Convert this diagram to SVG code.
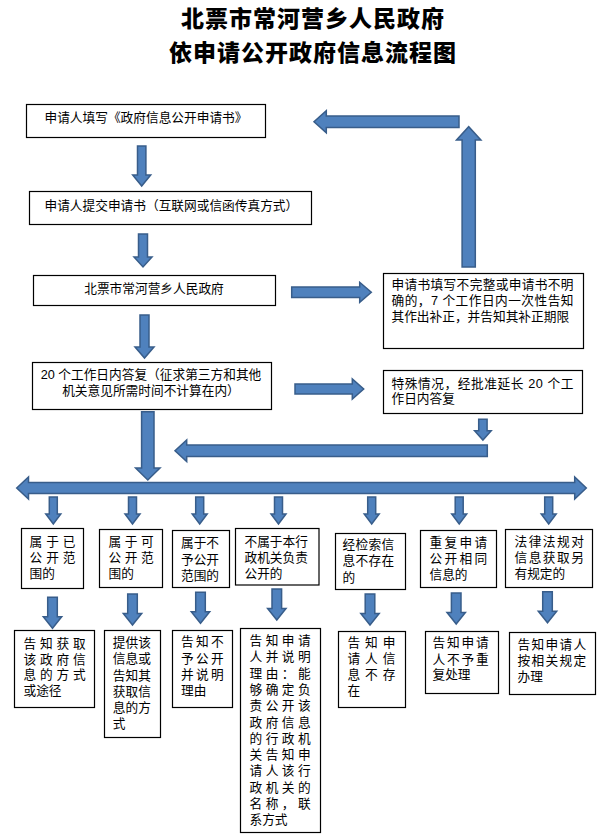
<svg xmlns="http://www.w3.org/2000/svg" xmlns:xlink="http://www.w3.org/1999/xlink" width="606" height="835" viewBox="0 0 606 835">
<style>
.title{font-family:"Noto Sans CJK SC",sans-serif;font-size:23px;font-weight:900;fill:#000;text-anchor:middle;letter-spacing:1px}
.t{font-family:"Liberation Sans","Noto Sans CJK SC",sans-serif;font-size:12.7px;fill:#000}
.c{text-anchor:middle}
.box{fill:#fff;stroke:#000;stroke-width:1.2}
.arr{fill:#4F81BD;stroke:#385D8A;stroke-width:1.5;stroke-linejoin:miter}
</style>
<defs>
<path id="sa" d="M-4,497 H4 V514 H7.5 L0,524 L-7.5,514 H-4 Z"/>
<path id="ma" d="M-4.8,0 H4.8 V19.5 H9.2 L0,31 L-9.2,19.5 H-4.8 Z"/>
</defs>
<rect width="606" height="835" fill="#fff"/>
<g id="title">
<text class="title" x="313" y="27">北票市常河营乡人民政府</text>
<text class="title" x="313" y="61">依申请公开政府信息流程图</text>
</g>
<g id="connectors">
<path class="arr" d="M137.5,146 H145.9 V175 H150.7 L141.7,186 L132.7,175 H137.5 Z"/>
<path class="arr" d="M138.5,234 H147.5 V257 H152 L143,267 L134,257 H138.5 Z"/>
<path class="arr" d="M140,315 H149 V347 H154 L144.5,358 L135,347 H140 Z"/>
<path class="arr" d="M141.6,411.7 H154 V468 H160 L147.8,480 L135.6,468 H141.6 Z"/>
<path class="arr" d="M459,115.9 V127.5 H326.3 V132.7 L314,121.7 L326.3,110.7 V115.9 Z"/>
<path class="arr" d="M462.1,267 V140 H456.5 L468.7,126.7 L480.9,140 H475.3 V267 Z"/>
<path class="arr" d="M291.7,287 H359.7 V282.3 L371.3,292.3 L359.7,302.3 V297.6 H291.7 Z"/>
<path class="arr" d="M295,384 H352.3 V379 L363.7,389 L352.3,399 V394 H295 Z"/>
<path class="arr" d="M478.7,419.3 H487.1 V430.7 H491.2 L482.9,440 L474.6,430.7 H478.7 Z"/>
<path class="arr" d="M487.3,444.9 V456.5 H186.7 V461.5 L175,450.7 L186.7,439.9 V444.9 Z"/>
<path class="arr" d="M16.7,488 L28.5,477 V482.5 H574.7 V477 L586.3,488 L574.7,499 V493.5 H28.5 V499 Z"/>
<use xlink:href="#sa" class="arr" transform="translate(53.3,0)"/>
<use xlink:href="#sa" class="arr" transform="translate(132.5,0)"/>
<use xlink:href="#sa" class="arr" transform="translate(199.7,0)"/>
<use xlink:href="#sa" class="arr" transform="translate(278.5,0)"/>
<use xlink:href="#sa" class="arr" transform="translate(371.7,0)"/>
<use xlink:href="#sa" class="arr" transform="translate(459.2,0)"/>
<use xlink:href="#sa" class="arr" transform="translate(548.7,0)"/>
<use xlink:href="#ma" class="arr" transform="translate(52.5,597.3)"/>
<use xlink:href="#ma" class="arr" transform="translate(132.5,594)"/>
<use xlink:href="#ma" class="arr" transform="translate(200.5,592.3)"/>
<use xlink:href="#ma" class="arr" transform="translate(276.8,589)"/>
<use xlink:href="#ma" class="arr" transform="translate(370,594)"/>
<use xlink:href="#ma" class="arr" transform="translate(456.2,593)"/>
<use xlink:href="#ma" class="arr" transform="translate(547.5,591.7)"/>
</g>
<g id="n1"><rect class="box" x="26.5" y="104.5" width="239" height="33"/>
<text class="t" x="44.5" y="122">申请人填写《政府信息公开申请书》</text></g>
<g id="n2"><rect class="box" x="29.5" y="191.5" width="282" height="33"/>
<text class="t" x="44.5" y="210">申请人提交申请书（互联网或信函传真方式）</text></g>
<g id="n3"><rect class="box" x="33.5" y="275.5" width="242" height="30"/>
<text class="t c" x="154" y="293">北票市常河营乡人民政府</text></g>
<g id="n4"><rect class="box" x="32.5" y="362.5" width="239" height="47"/>
<text class="t c" x="151" y="379">20 个工作日内答复（征求第三方和其他</text>
<text class="t c" x="151" y="395">机关意见所需时间不计算在内）</text></g>
<g id="n5"><rect class="box" x="383.5" y="273.5" width="200" height="75"/>
<text class="t" x="391.5" y="289" textLength="182" lengthAdjust="spacing">申请书填写不完整或申请书不明</text>
<text class="t" x="391.5" y="305" textLength="182" lengthAdjust="spacing">确的，7 个工作日内一次性告知</text>
<text class="t" x="391.5" y="321">其作出补正，并告知其补正期限</text></g>
<g id="n6"><rect class="box" x="383.5" y="370.5" width="199" height="43"/>
<text class="t" x="391.5" y="388" textLength="182" lengthAdjust="spacing">特殊情况，经批准延长 20 个工</text>
<text class="t" x="391.5" y="403">作日内答复</text></g>
<g id="b1"><rect class="box" x="21.5" y="528.5" width="62" height="60"/>
<text class="t" x="29.5" y="545.5" letter-spacing="4">属于已</text>
<text class="t" x="29.5" y="561.5" letter-spacing="4">公开范</text>
<text class="t" x="29.5" y="577.5">围的</text></g>
<g id="b2"><rect class="box" x="99.5" y="529.5" width="63" height="58"/>
<text class="t" x="108.5" y="546" letter-spacing="3.6">属于可</text>
<text class="t" x="108.5" y="562" letter-spacing="3.6">公开范</text>
<text class="t" x="108.5" y="577.5">围的</text></g>
<g id="b3"><rect class="box" x="172.5" y="530.5" width="57" height="57"/>
<text class="t" x="181" y="547">属于不</text>
<text class="t" x="181" y="564">予公开</text>
<text class="t" x="181" y="580">范围的</text></g>
<g id="b4"><rect class="box" x="235.5" y="528.5" width="83.5" height="56.5"/>
<text class="t" x="244.5" y="546">不属于本行</text>
<text class="t" x="244.5" y="562">政机关负责</text>
<text class="t" x="244.5" y="577.5">公开的</text></g>
<g id="b5"><rect class="box" x="335.5" y="533.5" width="70" height="56"/>
<text class="t" x="342.5" y="548.5" letter-spacing="0.3">经检索信</text>
<text class="t" x="342.5" y="565" letter-spacing="0.3">息不存在</text>
<text class="t" x="342.5" y="581.5">的</text></g>
<g id="b6"><rect class="box" x="420.5" y="530.5" width="76" height="57"/>
<text class="t" x="429.5" y="547" letter-spacing="2.3">重复申请</text>
<text class="t" x="429.5" y="563" letter-spacing="2.3">公开相同</text>
<text class="t" x="429.5" y="579">信息的</text></g>
<g id="b7"><rect class="box" x="505.5" y="529.5" width="87" height="58"/>
<text class="t" x="514.5" y="546" letter-spacing="1.5">法律法规对</text>
<text class="t" x="514.5" y="562" letter-spacing="1.5">信息获取另</text>
<text class="t" x="514.5" y="578">有规定的</text></g>
<g id="c1"><rect class="box" x="14.5" y="630.5" width="80" height="77"/>
<text class="t" x="23.5" y="647.5" letter-spacing="3.8">告知获取</text>
<text class="t" x="23.5" y="663.5" letter-spacing="3.8">该政府信</text>
<text class="t" x="23.5" y="679" letter-spacing="3.8">息的方式</text>
<text class="t" x="23.5" y="695">或途径</text></g>
<g id="c2"><rect class="box" x="104.5" y="630.5" width="56" height="107"/>
<text class="t" x="112.8" y="647">提供该</text>
<text class="t" x="112.8" y="663.3">信息或</text>
<text class="t" x="112.8" y="679.5">告知其</text>
<text class="t" x="112.8" y="695.8">获取信</text>
<text class="t" x="112.8" y="712">息的方</text>
<text class="t" x="112.8" y="728">式</text></g>
<g id="c3"><rect class="box" x="172.5" y="630.5" width="60" height="77"/>
<text class="t" x="181" y="646" letter-spacing="2.3">告知不</text>
<text class="t" x="181" y="662.5" letter-spacing="2.3">予公开</text>
<text class="t" x="181" y="679" letter-spacing="2.3">并说明</text>
<text class="t" x="181" y="695">理由</text></g>
<g id="c4"><rect class="box" x="240.5" y="628.5" width="80" height="204"/>
<text class="t" x="249.5" y="645" letter-spacing="3.5">告知申请</text>
<text class="t" x="249.5" y="661.3" letter-spacing="3.5">人并说明</text>
<text class="t" x="249.5" y="677.6" letter-spacing="3.5">理由：能</text>
<text class="t" x="249.5" y="693.9" letter-spacing="3.5">够确定负</text>
<text class="t" x="249.5" y="710.2" letter-spacing="3.5">责公开该</text>
<text class="t" x="249.5" y="726.5" letter-spacing="3.5">政府信息</text>
<text class="t" x="249.5" y="742.8" letter-spacing="3.5">的行政机</text>
<text class="t" x="249.5" y="759.1" letter-spacing="3.5">关告知申</text>
<text class="t" x="249.5" y="775.4" letter-spacing="3.5">请人该行</text>
<text class="t" x="249.5" y="791.7" letter-spacing="3.5">政机关的</text>
<text class="t" x="249.5" y="808" letter-spacing="3.5">名称，联</text>
<text class="t" x="249.5" y="824.3">系方式</text></g>
<g id="c5"><rect class="box" x="338.5" y="631.5" width="67" height="76"/>
<text class="t" x="347.5" y="646.5" letter-spacing="4.9">告知申</text>
<text class="t" x="347.5" y="663" letter-spacing="4.9">请人信</text>
<text class="t" x="347.5" y="678.5" letter-spacing="4.9">息不存</text>
<text class="t" x="347.5" y="695">在</text></g>
<g id="c6"><rect class="box" x="425.5" y="631.5" width="73" height="62"/>
<text class="t" x="432.5" y="646.5" letter-spacing="1.8">告知申请</text>
<text class="t" x="432.5" y="664" letter-spacing="1.8">人不予重</text>
<text class="t" x="432.5" y="679">复处理</text></g>
<g id="c7"><rect class="box" x="509.5" y="632.5" width="86" height="62"/>
<text class="t" x="517.5" y="648.5" letter-spacing="1.3">告知申请人</text>
<text class="t" x="517.5" y="665" letter-spacing="1.3">按相关规定</text>
<text class="t" x="517.5" y="681">办理</text></g>
</svg>
